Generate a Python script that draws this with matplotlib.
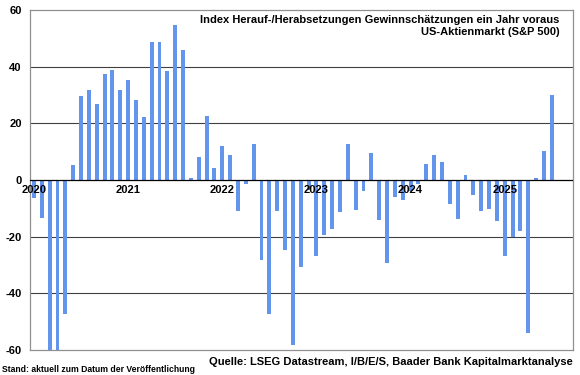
import matplotlib
matplotlib.use("Agg")
import matplotlib.pyplot as plt
import numpy as np
import pandas as pd

plt.rcParams['font.family'] = ['Liberation Sans', 'DejaVu Sans']

# Monatswerte Jan 2020 - Jul 2025
months = pd.date_range("2020-01-01", "2025-07-01", freq="MS")
values = [
    -6.5, -13.5, -65, -65, -47.4, 5.3, 29.5, 31.6, 26.7, 37.4, 38.7, 31.8,   # 2020
    35.2, 28.4, 22.1, 48.7, 48.7, 38.5, 54.7, 45.9, 0.6, 8.2, 22.5, 4.4,     # 2021
    12.1, 8.7, -10.8, -1.3, 12.6, -28.2, -47.4, -11.1, -24.7, -58.2, -30.8, -3.5,  # 2022
    -26.7, -19.4, -17.4, -11.4, 12.6, -10.7, -3.8, 9.4, -14.1, -29.4, -6.1, -7.1,  # 2023
    -3.8, -1.3, 5.6, 8.7, 6.2, -8.4, -13.8, 1.9, -5.3, -10.8, -10.4, -14.4,  # 2024
    -26.8, -20.0, -17.9, -54.1, 0.7, 10.2, 29.9,                            # 2025
]
year_labels = ["2020", "2021", "2022", "2023", "2024", "2025"]
yticks = [-60, -40, -20, 0, 20, 40, 60]

title = "Index Herauf-/Herabsetzungen Gewinnschätzungen ein Jahr voraus\nUS-Aktienmarkt (S&P 500)"
source = "Quelle: LSEG Datastream, I/B/E/S, Baader Bank Kapitalmarktanalyse"
note = "Stand: aktuell zum Datum der Veröffentlichung"

fig = plt.figure(figsize=(5.8, 3.75), dpi=100)
ax = fig.add_axes([30 / 580, 25 / 375, 543 / 580, 340 / 375])

x = np.arange(len(months))
ax.bar(x, values, width=0.5, color="#6495ED", zorder=3)

ax.set_ylim(-60, 60)
ax.set_xlim(-0.51, 68.7)
ax.set_yticks(yticks)
ax.set_yticklabels([str(v) for v in yticks], fontsize=8, fontweight="bold")
ax.tick_params(axis="y", length=0, pad=6)
ax.set_xticks([])

# Gitternetz
for v in [-40, -20, 20, 40]:
    ax.axhline(v, color="#404040", lw=0.8, zorder=1)
ax.axhline(0, color="black", lw=0.9, zorder=4)

for s in ax.spines.values():
    s.set_color("#909090")
    s.set_linewidth(0.9)

# Jahresbeschriftungen direkt unter der Nulllinie
for i, lab in enumerate(year_labels):
    ax.text(i * 12, -1.8, lab, ha="center", va="top", fontsize=8,
            fontweight="bold", zorder=5)

ax.text(0.975, 0.985, title, transform=ax.transAxes, ha="right", va="top",
        fontsize=8, fontweight="bold", linespacing=1.25)

fig.text(573 / 580, 1 - 362 / 375, source, ha="right", va="center",
         fontsize=8.0, fontweight="bold")
fig.text(2 / 580, 1 - 369 / 375, note, ha="left", va="center",
         fontsize=6.2, fontweight="bold")

fig.savefig("out.png", dpi=100)
